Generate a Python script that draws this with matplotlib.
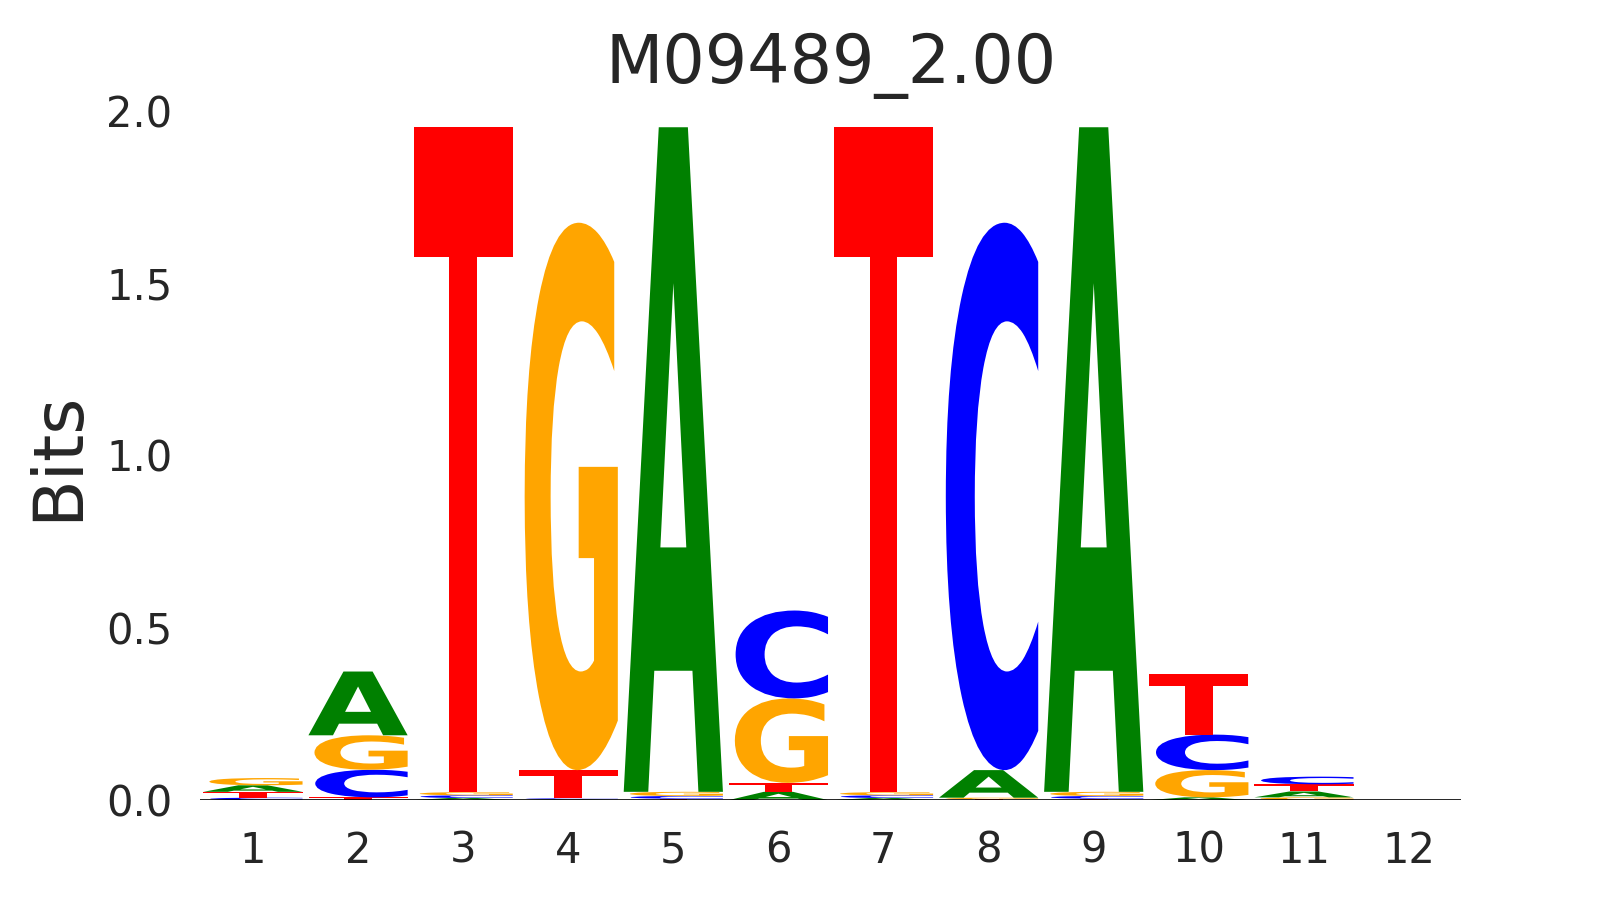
import numpy as np
import matplotlib
matplotlib.use("Agg")
import matplotlib.pyplot as plt
from matplotlib.textpath import TextPath
from matplotlib.font_manager import FontProperties
from matplotlib.patches import PathPatch
from matplotlib.transforms import Affine2D

# Information content (bits) per letter at each position
positions = list(range(1, 13))
bits_A = [0.019, 0.185, 0.006, 0.002, 1.928, 0.024, 0.006, 0.080, 1.928, 0.008, 0.017, 0.0]
bits_C = [0.007, 0.080, 0.008, 0.003, 0.008, 0.255, 0.008, 1.588, 0.008, 0.103, 0.022, 0.0]
bits_G = [0.021, 0.100, 0.009, 1.588, 0.012, 0.245, 0.009, 0.004, 0.012, 0.079, 0.008, 0.0]
bits_T = [0.017, 0.008, 1.929, 0.082, 0.004, 0.026, 1.929, 0.003, 0.004, 0.176, 0.021, 0.0]

letters = ["A", "C", "G", "T"]
colors = {"A": "green", "C": "#0000ff", "G": "#ffa500", "T": "#ff0000"}
title = "M09489_2.00"

font = FontProperties(family="DejaVu Sans", weight="bold")


def draw_glyph(ax, char, x, bottom, height, width=0.95):
    """Stretch a letter outline to fill a box, logomaker style."""
    path = TextPath((0, 0), char, size=1, prop=font)
    verts = path.vertices
    xmin, ymin = verts.min(axis=0)
    xmax, ymax = verts.max(axis=0)
    tr = (Affine2D()
          .translate(-xmin, -ymin)
          .scale(width / (xmax - xmin), height / (ymax - ymin))
          .translate(x - width / 2, bottom))
    patch = PathPatch(tr.transform_path(path), facecolor=colors[char],
                      edgecolor="none", linewidth=0)
    ax.add_patch(patch)


fig = plt.figure(figsize=(16.2, 9), dpi=100)
ax = fig.add_axes([0.1235, 0.111, 0.7785, 0.766])

table = {"A": bits_A, "C": bits_C, "G": bits_G, "T": bits_T}
for i, pos in enumerate(positions):
    vals = sorted(((table[l][i], l) for l in letters))
    floor = 0.0
    for v, l in vals:
        if v > 0:
            draw_glyph(ax, l, pos, floor, v)
        floor += v

ax.axhline(0, color="black", lw=1.2, zorder=5)
ax.set_xlim(0.5, 12.5)
ax.set_ylim(0, 2.0)
ax.set_xticks(positions)
ax.set_yticks([0.0, 0.5, 1.0, 1.5, 2.0])
ax.set_yticklabels(["0.0", "0.5", "1.0", "1.5", "2.0"])
for s in ax.spines.values():
    s.set_visible(False)
ax.tick_params(axis="both", length=0, labelsize=30, colors="#262626")
ax.tick_params(axis="x", pad=21.5)
ax.tick_params(axis="y", pad=20)
ax.set_ylabel("Bits", fontsize=50, color="#262626", labelpad=11)
ax.set_title(title, fontsize=48, color="#262626", pad=20)

fig.savefig("out.png", dpi=100, facecolor="white")
